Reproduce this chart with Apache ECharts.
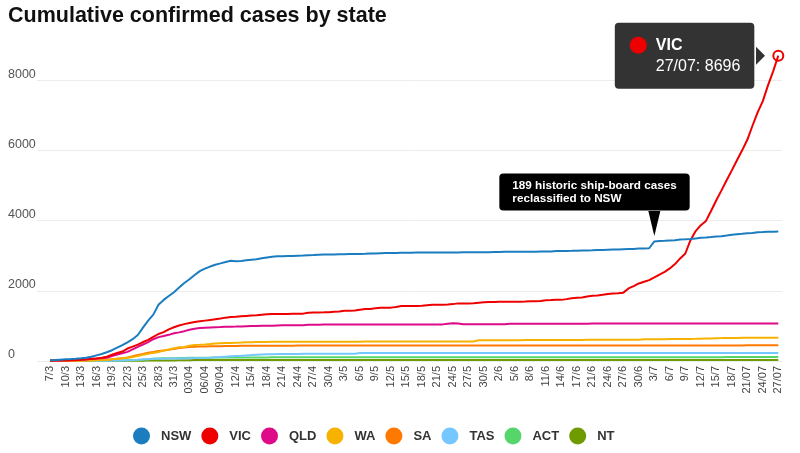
<!DOCTYPE html>
<html>
<head>
<meta charset="utf-8">
<script src="https://cdn.jsdelivr.net/npm/echarts@6/dist/echarts.min.js"></script>
<style>
html,body{margin:0;padding:0;background:#fff;}
#chart{width:800px;height:453px;}
</style>
</head>
<body>
<div id="chart"></div>
<script>
const titleText = 'Cumulative confirmed cases by state';
const noteText = '189 historic ship-board cases\nreclassified to NSW';
const noteDate = '3/7';

const dates = [
'7/3','8/3','9/3','10/3','11/3','12/3','13/3','14/3','15/3','16/3','17/3','18/3','19/3','20/3','21/3','22/3','23/3','24/3','25/3','26/3','27/3','28/3','29/3','30/3','31/3',
'01/04','02/04','03/04','04/04','05/04','06/04','07/04','08/04','09/04','10/4','11/4','12/4','13/4','14/4','15/4','16/4','17/4','18/4','19/4','20/4','21/4','22/4','23/4','24/4','25/4','26/4','27/4','28/4','29/4','30/4',
'1/5','2/5','3/5','4/5','5/5','6/5','7/5','8/5','9/5','10/5','11/5','12/5','13/5','14/5','15/5','16/5','17/5','18/5','19/5','20/5','21/5','22/5','23/5','24/5','25/5','26/5','27/5','28/5','29/5','30/5','31/5',
'1/6','2/6','3/6','4/6','5/6','6/6','7/6','8/6','9/6','10/6','11/6','12/6','13/6','14/6','15/6','16/6','17/6','18/6','20/6','21/6','22/6','23/6','24/6','25/6','26/6','27/6','28/6','29/6','30/6',
'1/7','2/7','3/7','4/7','5/7','6/7','7/7','8/7','9/7','10/7','11/7','12/7','13/7','14/7','15/7','16/7','17/7','18/7','19/7','20/7','21/07','22/07','23/07','24/07','25/07','26/07','27/07'
];

const yTicks = [0, 2000, 4000, 6000, 8000];

const nsw = [
22,28,38,47,55,65,78,92,120,160,200,250,307,380,450,533,620,739,950,1150,1320,1600,1740,1850,1960,
2090,2220,2330,2450,2560,2630,2690,2740,2780,2822,2857,2844,2850,2870,2886,2897,2926,2950,2970,2980,2986,2990,2994,2998,3002,3010,3016,3025,3030,3033,
3035,3038,3040,3044,3047,3051,3053,3059,3063,3071,3075,3077,3078,3081,3082,3086,3087,3087,3088,3089,3090,3091,3092,3092,3092,3094,3095,3095,3098,3098,3099,
3104,3106,3108,3109,3110,3112,3114,3114,3115,3117,3119,3120,3131,3135,3135,3137,3143,3148,3150,3151,3159,3162,3168,3174,3177,3184,3189,3190,3203,
3207,3211,3405,3419,3425,3434,3440,3463,3467,3474,3492,3509,3519,3532,3546,3556,3575,3598,3612,3625,3640,3647,3665,3671,3678,3682,3686
];

const vic = [
10,11,11,15,18,21,36,49,57,71,94,121,178,229,270,355,411,466,540,600,685,769,821,900,960,
1010,1050,1080,1110,1130,1150,1170,1190,1210,1235,1250,1262,1275,1285,1295,1300,1318,1330,1336,1337,1337,1340,1343,1346,1349,1375,1380,1384,1385,1387,
1400,1410,1432,1432,1440,1460,1479,1480,1500,1517,1517,1520,1540,1564,1564,1564,1567,1573,1590,1603,1603,1603,1610,1620,1641,1641,1641,1645,1660,1670,1678,
1681,1687,1687,1687,1690,1691,1693,1700,1703,1710,1732,1735,1741,1741,1762,1790,1801,1810,1836,1858,1864,1884,1910,1924,1932,1947,2067,2132,2209,
2256,2303,2380,2460,2540,2636,2760,2921,3062,3441,3700,3868,3990,4280,4579,4860,5148,5430,5716,6000,6300,6700,7080,7400,7850,8250,8696
];

const qld = [
13,15,15,18,20,26,35,46,61,68,78,94,144,184,221,259,330,400,470,540,620,680,710,745,790,
815,850,890,920,940,950,955,960,965,972,976,980,985,990,995,998,1001,1003,1005,1010,1015,1015,1016,1018,1019,1030,1033,1035,1038,1040,
1043,1043,1043,1043,1043,1043,1043,1043,1043,1043,1043,1043,1043,1043,1043,1043,1043,1043,1043,1043,1043,1043,1060,1075,1070,1045,1045,1045,1045,1045,1045,
1045,1045,1045,1062,1062,1062,1062,1062,1062,1062,1062,1062,1062,1062,1064,1064,1064,1064,1064,1065,1065,1065,1065,1066,1066,1066,1067,1067,1067,
1067,1067,1067,1067,1067,1068,1068,1068,1068,1069,1069,1069,1070,1070,1070,1070,1071,1071,1071,1071,1071,1071,1071,1071,1071,1071,1071
];

const wa = [
3,3,3,4,4,6,9,14,17,18,28,31,52,64,80,90,110,140,175,205,231,255,300,330,364,
392,400,436,453,460,470,481,495,506,514,515,523,527,532,535,541,544,544,545,546,546,548,549,549,550,550,551,551,551,551,
551,551,551,551,551,551,552,552,552,552,552,552,552,554,554,554,555,557,557,557,557,557,557,557,557,558,558,558,592,592,592,
592,592,592,592,592,592,596,599,599,599,599,599,599,599,599,599,599,599,602,602,602,602,602,602,602,604,604,606,606,
618,620,621,623,623,626,626,627,628,629,632,636,640,640,651,652,655,657,658,660,661,662,662,663,663,663,663
];

const sa = [
7,7,7,7,9,16,16,18,20,29,32,37,50,67,80,100,134,170,197,235,257,287,299,320,345,
367,385,396,407,411,415,420,420,421,428,429,429,431,433,433,433,433,435,435,435,436,437,437,438,438,438,438,438,438,438,
438,438,438,438,438,438,438,438,438,438,438,438,438,438,438,438,438,439,439,439,439,439,439,439,439,439,439,439,439,439,439,
440,440,440,440,440,440,440,440,440,440,440,440,440,440,440,440,440,440,440,440,442,442,442,442,442,442,442,442,442,
443,443,443,443,443,443,443,443,443,443,444,444,444,444,444,445,445,445,445,445,446,446,446,446,447,447,447
];

const tas = [
1,2,2,2,3,5,6,6,6,7,7,10,10,11,16,22,28,36,47,51,62,65,66,69,69,
72,74,80,82,86,89,96,104,111,122,133,144,150,160,169,180,187,194,195,197,198,200,201,202,203,204,205,205,206,207,
207,207,207,207,207,230,230,230,230,230,230,230,230,230,230,230,230,230,230,230,230,230,230,230,230,230,230,230,230,230,230,
230,230,230,230,230,230,230,230,230,230,230,230,230,230,230,230,230,230,230,230,230,230,230,230,230,230,230,230,230,
230,230,230,230,230,230,230,230,230,230,230,230,230,230,230,230,230,230,230,230,231,231,231,231,231,231,231
];

const act = [
0,0,0,0,0,1,1,1,1,2,2,3,6,9,11,19,23,32,39,53,62,71,77,78,80,
84,87,91,93,96,96,96,99,100,102,103,103,103,103,103,103,103,103,104,104,104,104,106,106,106,106,106,106,106,106,
106,106,106,106,106,106,106,106,106,106,106,106,106,106,106,107,107,107,107,107,107,107,107,107,107,107,107,107,107,107,107,
107,107,107,107,107,107,107,107,107,107,108,108,108,108,108,108,108,108,108,108,108,108,108,108,108,108,108,108,108,
108,108,108,108,108,108,108,108,108,108,109,109,109,110,110,110,111,111,111,111,113,113,113,113,113,113,113
];

const nt = [
0,0,0,0,0,0,0,0,0,0,0,0,1,3,3,5,5,6,6,12,14,15,15,15,17,
19,21,22,26,27,28,28,28,28,28,28,28,28,28,28,28,28,28,28,28,28,28,28,28,28,28,28,28,28,28,
28,28,28,28,28,28,28,28,29,29,29,29,29,29,29,29,29,29,29,29,29,29,29,29,29,29,29,29,29,29,29,
29,29,29,29,29,29,29,29,29,29,29,29,29,29,29,29,29,29,29,29,29,30,30,30,30,30,30,30,30,
30,30,30,30,30,31,31,31,31,31,31,31,31,31,31,31,31,32,32,32,32,32,32,32,32,32,32
];

const stateNames = ['NSW','VIC','QLD','WA','SA','TAS','ACT','NT'];
const stateValues = [nsw, vic, qld, wa, sa, tas, act, nt];
const stateColors = ['#1b7dc0','#ee0000','#de0a88','#f7b200','#ff7900','#74c8ff','#56d66a','#6f9a00'];

const yMax = 9000;
const FONT = '"Liberation Sans", Arial, sans-serif';

const chart = echarts.init(document.getElementById('chart'), null, {renderer: 'canvas'});

const noteIdx = dates.indexOf(noteDate);
const lastIdx = dates.length - 1;

const series = stateNames.map((name, k) => ({
  name: name,
  type: 'line',
  xAxisIndex: 1,
  yAxisIndex: 1,
  data: stateValues[k],
  showSymbol: false,
  symbol: 'none',
  lineStyle: {width: 2, color: stateColors[k]},
  itemStyle: {color: stateColors[k]},
  emphasis: {disabled: true},
  z: 10 - k
}));

// NSW annotation
series[0].markPoint = {
  silent: true,
  animation: false,
  data: [
    {
      coord: [noteDate, nsw[noteIdx]],
      symbol: 'triangle', symbolRotate: 180, symbolSize: [12, 25], symbolOffset: [0, -18],
      itemStyle: {color: '#000'},
      label: {show: false}
    },
    {
      coord: [noteDate, nsw[noteIdx]],
      symbol: 'rect', symbolSize: 1, symbolOffset: [-155, -30.5],
      itemStyle: {color: 'rgba(0,0,0,0)'},
      label: {
        show: true, position: 'top', distance: 0, align: 'left',
        formatter: noteText,
        backgroundColor: '#000', color: '#fff', fontSize: 11.7, fontWeight: 'bold',
        lineHeight: 13, padding: [6, 13, 5, 13], borderRadius: 4, fontFamily: FONT
      }
    }
  ]
};

// VIC last-point callout
series[1].markPoint = {
  silent: true,
  animation: false,
  data: [
    {
      type: 'max',
      symbol: 'triangle', symbolRotate: -90, symbolSize: [18, 9], symbolOffset: [-17.8, 0],
      itemStyle: {color: '#333'},
      label: {show: false}
    },
    {
      type: 'max',
      symbol: 'rect', symbolSize: 1, symbolOffset: [-163, 0],
      itemStyle: {color: 'rgba(0,0,0,0)'},
      label: {
        show: true, position: 'left', distance: 0, align: 'left',
        formatter: '{dot|}{name|' + stateNames[1] + '}\n{val|' + dates[lastIdx] + ': ' + vic[lastIdx] + '}',
        backgroundColor: '#333', borderRadius: 4, padding: [12, 14, 12, 15],
        rich: {
          dot: {width: 17, height: 17, borderRadius: 8.5, backgroundColor: stateColors[1]},
          name: {color: '#fff', fontSize: 16, fontWeight: 'bold', padding: [0, 0, 0, 9], lineHeight: 21, fontFamily: FONT},
          val: {color: '#fff', fontSize: 16, padding: [0, 0, 0, 26], lineHeight: 21, fontFamily: FONT}
        }
      }
    },
    {
      type: 'max',
      symbol: 'circle', symbolSize: 10,
      itemStyle: {color: '#fff', borderColor: stateColors[1], borderWidth: 2},
      label: {show: false}
    }
  ]
};

const option = {
  animation: false,
  textStyle: {fontFamily: FONT},
  title: {
    text: titleText, left: 8, top: 5, padding: 0,
    textStyle: {fontSize: 21.5, fontWeight: 'bold', color: '#111', fontFamily: FONT}
  },
  legend: {
    data: stateNames,
    left: 133, top: 427.5, padding: 0,
    icon: 'circle', itemWidth: 17, itemHeight: 17, itemGap: 10,
    textStyle: {fontSize: 13, fontWeight: 'bold', color: '#333', padding: [0, 0, 0, 6], fontFamily: FONT}
  },
  grid: [
    {left: 37, right: 18, top: 45, bottom: 92},
    {left: 50, right: 21.7, top: 45, bottom: 92}
  ],
  xAxis: [
    {gridIndex: 0, type: 'value', min: 0, max: 1, show: false},
    {
      gridIndex: 1, type: 'category', data: dates, boundaryGap: false,
      axisLine: {show: false}, axisTick: {show: false}, splitLine: {show: false},
      axisLabel: {rotate: 90, interval: 2, fontSize: 11, color: '#444', margin: 5, fontFamily: FONT}
    }
  ],
  yAxis: [
    {
      gridIndex: 0, type: 'value', min: yTicks[0], max: yMax, interval: 2000,
      axisLine: {show: false}, axisTick: {show: false},
      axisLabel: {
        showMaxLabel: false, align: 'left', verticalAlign: 'bottom', margin: 29,
        fontSize: 12.5, color: '#555', lineHeight: 12, fontFamily: FONT,
        formatter: v => (yTicks.indexOf(v) >= 0 ? String(v) : '')
      },
      splitLine: {show: true, showMaxLine: false, lineStyle: {color: '#ececec', width: 1}}
    },
    {gridIndex: 1, type: 'value', min: yTicks[0], max: yMax, interval: 2000, show: false, splitLine: {show: false}}
  ],
  series: series
};

chart.setOption(option);
</script>
</body>
</html>
